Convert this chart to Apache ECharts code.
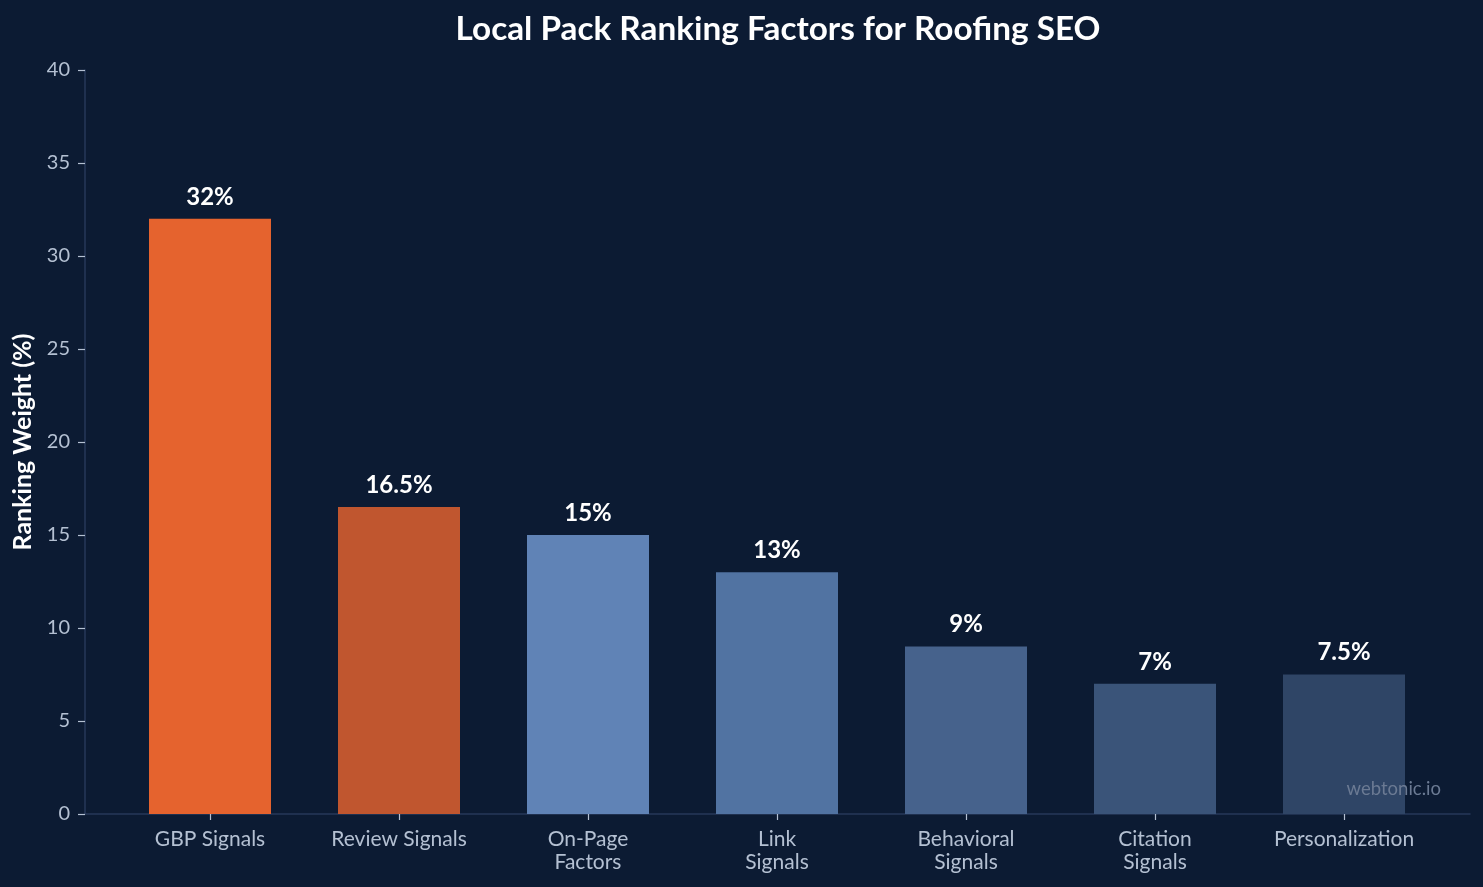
<!DOCTYPE html>
<html>
<head>
<meta charset="utf-8">
<script src="https://cdn.jsdelivr.net/npm/echarts@6/dist/echarts.min.js"></script>
<style>
html,body{margin:0;padding:0;background:#0c1b33;}
#chart{width:1483px;height:887px;}
</style>
</head>
<body>
<div id="chart"></div>
<script>
const categories = ['GBP Signals', 'Review Signals', 'On-Page\nFactors', 'Link\nSignals', 'Behavioral\nSignals', 'Citation\nSignals', 'Personalization'];
const values = [32, 16.5, 15, 13, 9, 7, 7.5];
const labels = ['32%', '16.5%', '15%', '13%', '9%', '7%', '7.5%'];
const colors = ['#e5632e', '#c0562f', '#6083b6', '#5173a2', '#46628c', '#3a5479', '#2f4566'];
const yTicks = [0, 5, 10, 15, 20, 25, 30, 35, 40];

const FONT = 'Lato, "Noto Sans", sans-serif';
const chart = echarts.init(document.getElementById('chart'), null, {renderer: 'canvas'});
chart.setOption({
  backgroundColor: '#0c1b33',
  animation: false,
  title: {
    text: 'Local Pack Ranking Factors for Roofing SEO',
    left: 773, top: 8, textAlign: 'center',
    textStyle: {color: '#ffffff', fontSize: 33.3, fontWeight: 'bold', fontFamily: FONT}
  },
  graphic: [{
    type: 'text', right: 42, top: 780, z: 100,
    style: {text: 'webtonic.io', fill: '#6b7a93', fontSize: 18.5, fontFamily: FONT}
  }],
  grid: [
    {left: 85, right: 13, top: 70, bottom: 73},
    {left: 115.5, right: 44.5, top: 70, bottom: 73}
  ],
  xAxis: [
    {type: 'value', gridIndex: 0, min: 0, max: 1, axisLine: {show: true, lineStyle: {color: '#26385a', width: 1.5}},
     axisTick: {show: false}, axisLabel: {show: false}, splitLine: {show: false}},
    {type: 'category', gridIndex: 1, data: categories,
     axisLine: {show: false},
     axisTick: {show: true, alignWithLabel: true, length: 6, lineStyle: {color: '#b4c0d2', width: 1.2}},
     axisLabel: {color: '#b4c0d2', fontSize: 21, fontFamily: FONT, margin: 14, lineHeight: 23, interval: 0}}
  ],
  yAxis: [
    {type: 'value', gridIndex: 0, min: 0, max: 40, interval: 5,
     name: 'Ranking Weight (%)', nameLocation: 'middle', nameGap: 47, nameRotate: 90,
     nameTextStyle: {color: '#ffffff', fontSize: 25, fontWeight: 'bold', fontFamily: FONT},
     axisLine: {show: true, lineStyle: {color: '#26385a', width: 1.5}},
     axisTick: {show: true, length: 7, lineStyle: {color: '#b4c0d2', width: 1.2}},
     axisLabel: {color: '#b4c0d2', fontSize: 20, fontFamily: FONT, margin: 15,
       formatter: v => yTicks.includes(v) ? String(v) : ''},
     splitLine: {show: false}},
    {type: 'value', gridIndex: 1, min: 0, max: 40, interval: 5, show: false}
  ],
  series: [{
    type: 'bar', xAxisIndex: 1, yAxisIndex: 1, barWidth: 122,
    data: values.map((v, i) => ({value: v, itemStyle: {color: colors[i]}})),
    label: {show: true, position: 'top', distance: 10, color: '#ffffff', fontSize: 24, fontWeight: 'bold', fontFamily: FONT,
      formatter: p => labels[p.dataIndex]}
  }]
});
</script>
</body>
</html>
